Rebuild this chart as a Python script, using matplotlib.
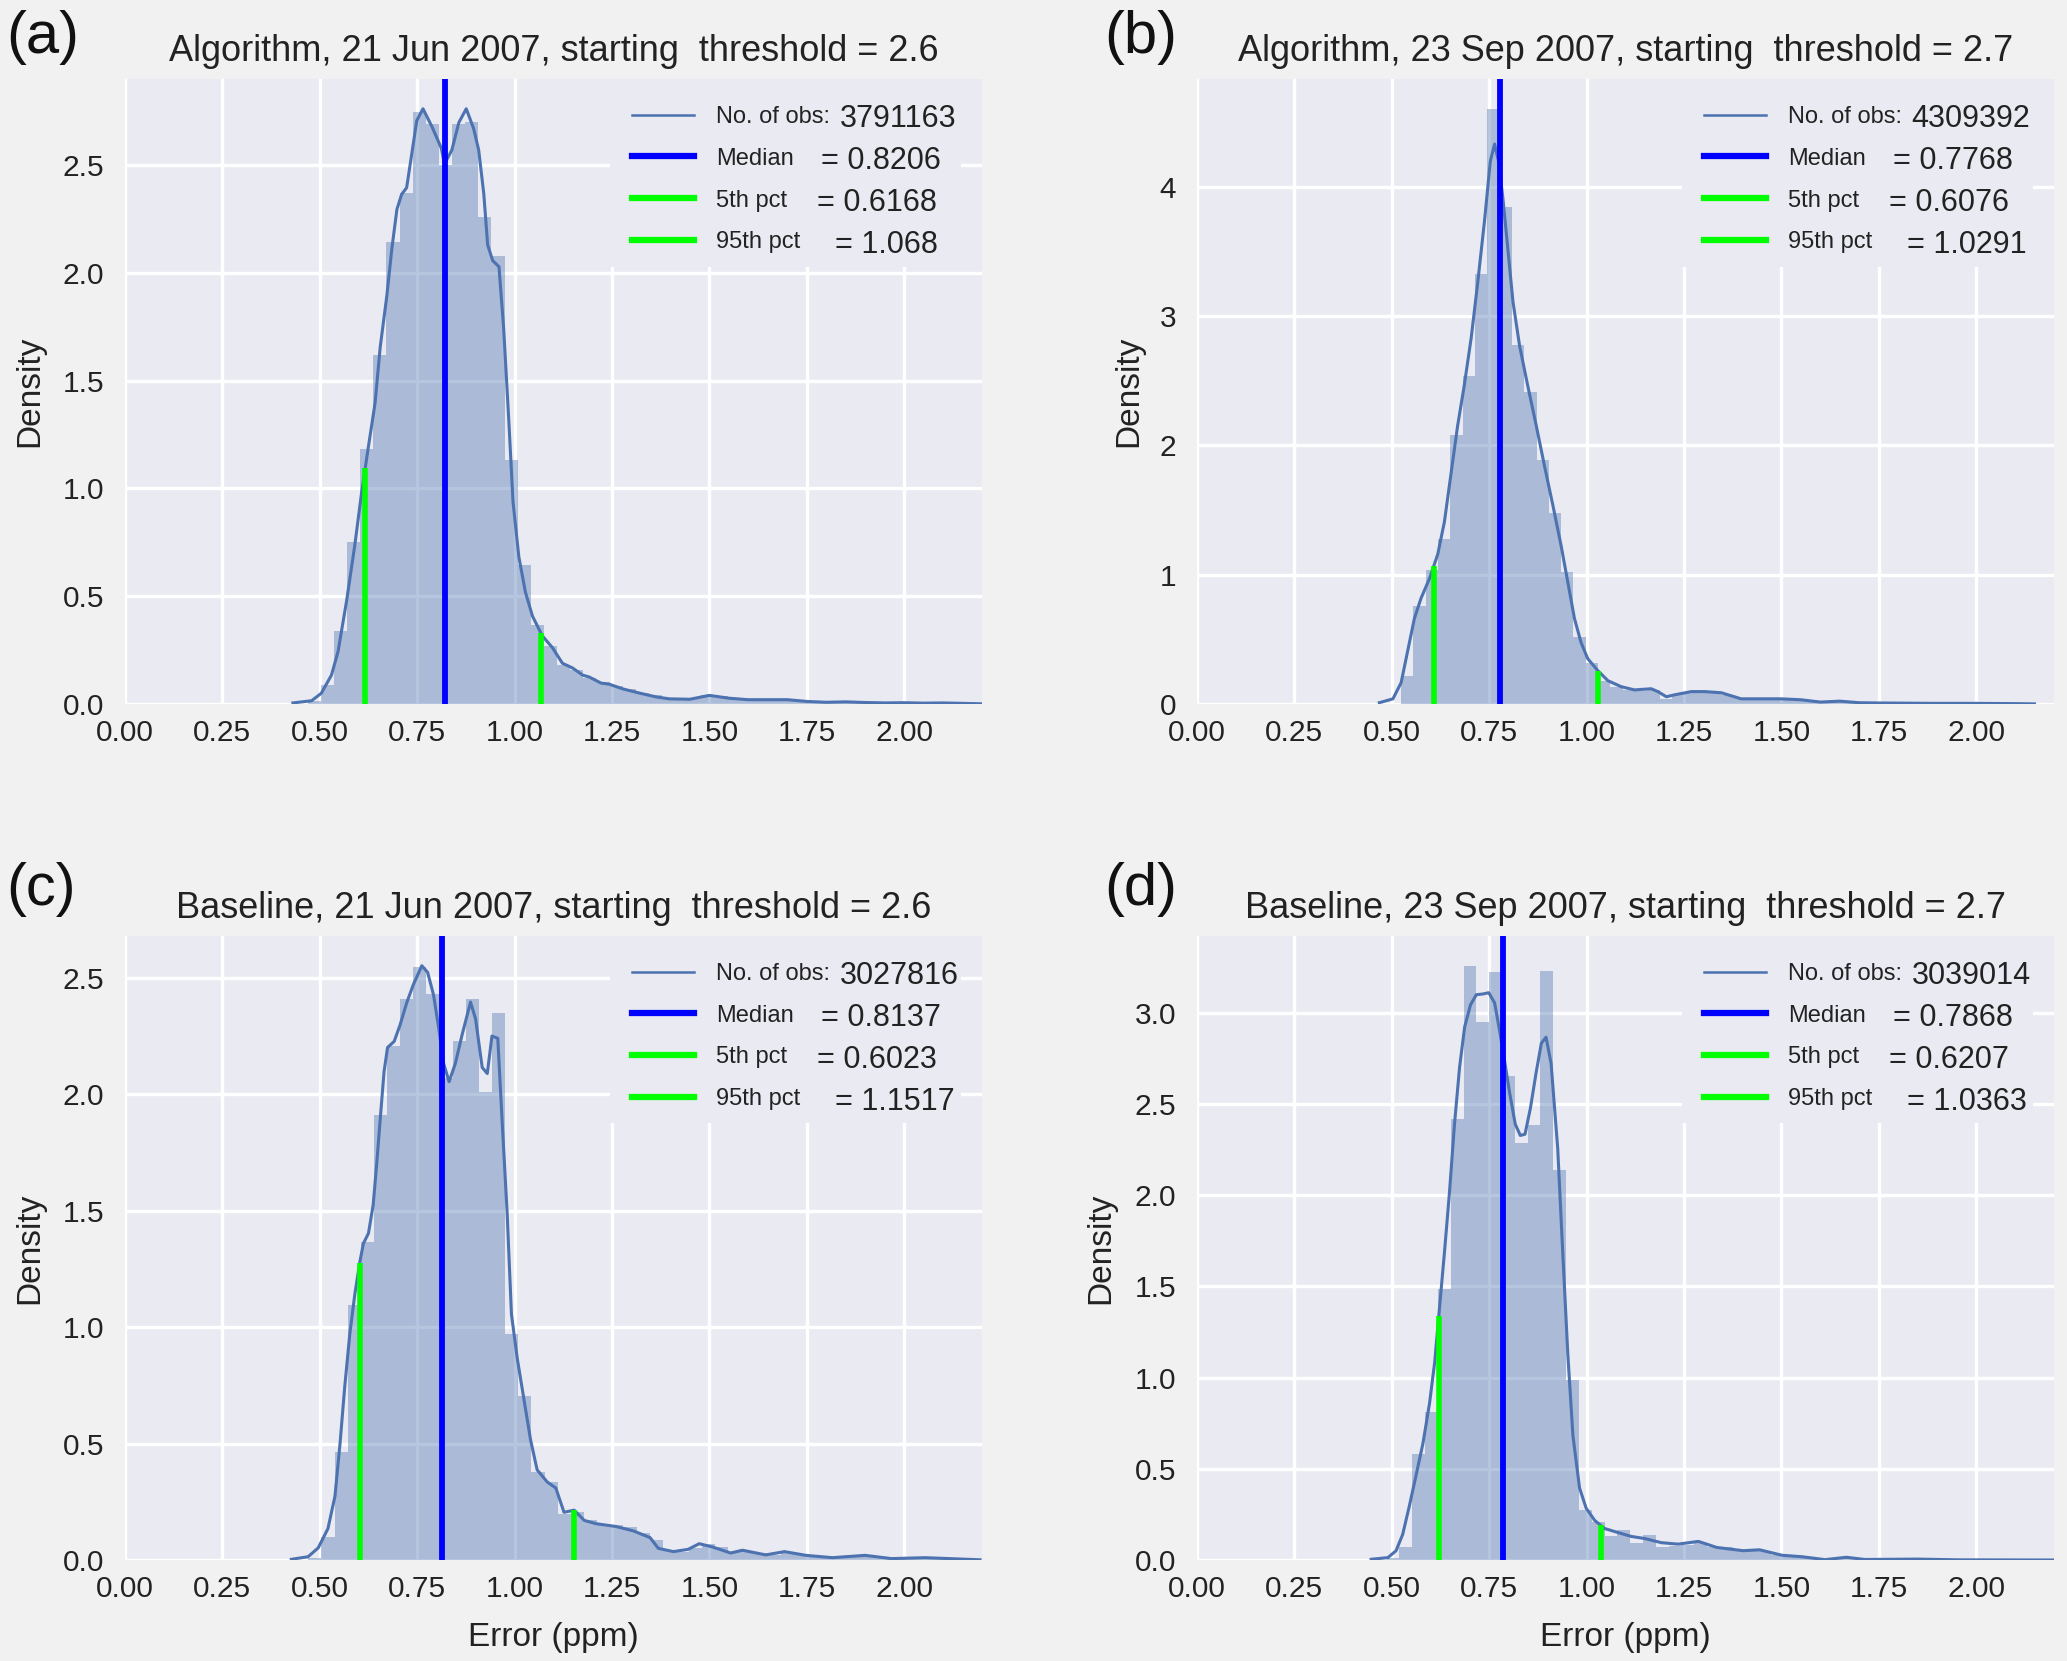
import matplotlib
matplotlib.use("Agg")
import matplotlib.pyplot as plt
from matplotlib.lines import Line2D
from matplotlib.patches import Rectangle
from matplotlib.ticker import FormatStrFormatter
import numpy as np

# ---------------- data ----------------
# Panel (a) Algorithm, 21 Jun 2007
a_bin_start = 0.4689
a_bin_width = 0.0337
a_heights = [0.012, 0.088, 0.339, 0.753, 1.183, 1.621, 2.143, 2.372, 2.747, 2.689,
             2.50, 2.689, 2.70, 2.258, 2.079, 1.132, 0.643, 0.368, 0.271, 0.18,
             0.16, 0.12, 0.10, 0.085, 0.07, 0.05, 0.04, 0.03, 0.025, 0.028,
             0.04, 0.035, 0.025, 0.02, 0.02, 0.018, 0.02, 0.015, 0.012, 0.008,
             0.01, 0.008, 0.007, 0.006, 0.005, 0.005, 0.005, 0.004, 0.004, 0.003]
a_kde_x = [0.431, 0.479, 0.504, 0.530, 0.547, 0.569, 0.590, 0.607, 0.625, 0.642,
           0.655, 0.672, 0.685, 0.698, 0.710, 0.723, 0.736, 0.749, 0.765, 0.788,
           0.812, 0.820, 0.839, 0.857, 0.876, 0.895, 0.908, 0.921, 0.931, 0.944,
           0.960, 0.972, 0.985, 0.996, 1.011, 1.028, 1.046, 1.071, 1.097, 1.123,
           1.149, 1.175, 1.192, 1.222, 1.243, 1.278, 1.320, 1.363, 1.397, 1.45,
           1.50, 1.55, 1.60, 1.65, 1.70, 1.75, 1.80, 1.85, 1.90, 1.95,
           2.00, 2.05, 2.10, 2.15, 2.197]
a_kde_y = [0.005, 0.015, 0.05, 0.134, 0.244, 0.48, 0.738, 0.976, 1.196, 1.397,
           1.654, 1.892, 2.112, 2.295, 2.364, 2.396, 2.551, 2.707, 2.762, 2.679,
           2.579, 2.505, 2.57, 2.698, 2.762, 2.67, 2.57, 2.368, 2.13, 2.057,
           2.029, 1.745, 1.324, 0.94, 0.683, 0.518, 0.408, 0.317, 0.262, 0.189,
           0.167, 0.134, 0.125, 0.097, 0.092, 0.07, 0.051, 0.033, 0.024, 0.022,
           0.04, 0.027, 0.02, 0.02, 0.02, 0.012, 0.008, 0.01, 0.007, 0.005,
           0.006, 0.004, 0.005, 0.003, 0.001]
a_nobs = "3791163"
a_median, a_p5, a_p95 = 0.8206, 0.6168, 1.068
a_vals = [a_nobs, "= 0.8206", "= 0.6168", "= 1.068"]
a_title = "Algorithm, 21 Jun 2007, starting  threshold = 2.6"

# Panel (b) Algorithm, 23 Sep 2007
b_bin_start = 0.524
b_bin_width = 0.0316
b_heights = [0.22, 0.761, 1.034, 1.273, 2.084, 2.54, 3.33, 4.605, 3.845, 2.78,
             2.41, 1.89, 1.48, 1.02, 0.516, 0.32, 0.18, 0.13, 0.11, 0.10,
             0.105, 0.04, 0.075, 0.09, 0.09, 0.085, 0.07, 0.045, 0.04, 0.04,
             0.04, 0.04, 0.035, 0.02, 0.015, 0.022, 0.02, 0.01, 0.008, 0.008,
             0.007, 0.007, 0.006, 0.005, 0.005, 0.004, 0.005, 0.004, 0.003, 0.003]
b_kde_x = [0.468, 0.503, 0.524, 0.541, 0.558, 0.575, 0.597, 0.618, 0.635, 0.652,
           0.669, 0.686, 0.704, 0.721, 0.738, 0.753, 0.764, 0.774, 0.785, 0.798,
           0.811, 0.828, 0.849, 0.871, 0.892, 0.914, 0.935, 0.952, 0.969, 0.986,
           1.003, 1.029, 1.055, 1.089, 1.123, 1.166, 1.183, 1.205, 1.226, 1.269,
           1.303, 1.346, 1.397, 1.45, 1.50, 1.55, 1.60, 1.65, 1.70, 1.75,
           1.80, 1.90, 2.00, 2.10, 2.15]
b_kde_y = [0.01, 0.04, 0.165, 0.413, 0.661, 0.817, 0.972, 1.158, 1.407, 1.78,
           2.152, 2.463, 2.835, 3.27, 3.736, 4.2, 4.332, 4.2, 3.92, 3.52,
           3.115, 2.773, 2.463, 2.152, 1.842, 1.531, 1.22, 0.941, 0.661, 0.475,
           0.351, 0.258, 0.18, 0.134, 0.109, 0.118, 0.096, 0.056, 0.071, 0.096,
           0.096, 0.087, 0.04, 0.04, 0.04, 0.033, 0.015, 0.022, 0.01, 0.008,
           0.007, 0.005, 0.005, 0.003, 0.001]
b_nobs = "4309392"
b_median, b_p5, b_p95 = 0.7768, 0.6076, 1.0291
b_vals = [b_nobs, "= 0.7768", "= 0.6076", "= 1.0291"]
b_title = "Algorithm, 23 Sep 2007, starting  threshold = 2.7"

# Panel (c) Baseline, 21 Jun 2007
c_bin_start = 0.4706
c_bin_width = 0.0337
c_heights = [0.01, 0.10, 0.462, 1.094, 1.365, 1.91, 2.208, 2.41, 2.545, 2.43,
             2.07, 2.227, 2.41, 2.01, 2.35, 0.972, 0.703, 0.378, 0.335, 0.196,
             0.205, 0.17, 0.155, 0.15, 0.14, 0.115, 0.085, 0.045, 0.035, 0.05,
             0.07, 0.055, 0.035, 0.04, 0.03, 0.022, 0.035, 0.025, 0.02, 0.015,
             0.01, 0.012, 0.018, 0.015, 0.007, 0.006, 0.008, 0.01, 0.008, 0.005]
c_kde_x = [0.427, 0.470, 0.496, 0.521, 0.539, 0.552, 0.564, 0.577, 0.590, 0.603,
           0.612, 0.625, 0.637, 0.646, 0.655, 0.665, 0.674, 0.691, 0.706, 0.723,
           0.740, 0.762, 0.777, 0.792, 0.805, 0.818, 0.832, 0.848, 0.865, 0.887,
           0.900, 0.917, 0.930, 0.942, 0.957, 0.968, 0.981, 0.992, 1.007, 1.024,
           1.041, 1.058, 1.084, 1.106, 1.127, 1.153, 1.179, 1.209, 1.26, 1.305,
           1.348, 1.369, 1.408, 1.446, 1.474, 1.508, 1.555, 1.585, 1.645, 1.693,
           1.748, 1.816, 1.90, 1.968, 2.054, 2.195]
c_kde_y = [0.003, 0.014, 0.052, 0.135, 0.274, 0.5, 0.743, 0.969, 1.142, 1.281,
           1.359, 1.403, 1.524, 1.698, 1.889, 2.097, 2.201, 2.227, 2.297, 2.392,
           2.47, 2.552, 2.523, 2.427, 2.288, 2.132, 2.054, 2.132, 2.253, 2.396,
           2.323, 2.115, 2.089, 2.25, 2.24, 1.889, 1.49, 1.056, 0.865, 0.691,
           0.517, 0.387, 0.335, 0.309, 0.205, 0.214, 0.17, 0.156, 0.144, 0.125,
           0.096, 0.05, 0.036, 0.046, 0.07, 0.056, 0.03, 0.042, 0.022, 0.036,
           0.02, 0.01, 0.02, 0.006, 0.01, 0.001]
c_nobs = "3027816"
c_median, c_p5, c_p95 = 0.8137, 0.6023, 1.1517
c_vals = [c_nobs, "= 0.8137", "= 0.6023", "= 1.1517"]
c_title = "Baseline, 21 Jun 2007, starting  threshold = 2.6"

# Panel (d) Baseline, 23 Sep 2007
d_bin_start = 0.4868
d_bin_width = 0.0329
d_heights = [0.01, 0.073, 0.583, 0.809, 1.486, 2.417, 3.259, 2.949, 3.222, 2.656,
             2.286, 2.384, 3.228, 2.14, 0.987, 0.273, 0.206, 0.129, 0.162, 0.095,
             0.135, 0.073, 0.078, 0.084, 0.095, 0.07, 0.07, 0.05, 0.05, 0.05,
             0.03, 0.022, 0.018, 0.01, 0.008, 0.012, 0.012, 0.005, 0.005, 0.005,
             0.006, 0.006, 0.004, 0.003, 0.002, 0.002, 0.002, 0.002, 0.001, 0.001]
d_kde_x = [0.447, 0.490, 0.511, 0.528, 0.545, 0.562, 0.580, 0.597, 0.610, 0.622,
           0.635, 0.648, 0.661, 0.674, 0.687, 0.702, 0.717, 0.734, 0.749, 0.764,
           0.777, 0.789, 0.802, 0.817, 0.830, 0.842, 0.856, 0.871, 0.884, 0.896,
           0.909, 0.926, 0.939, 0.952, 0.965, 0.982, 0.999, 1.021, 1.046, 1.080,
           1.115, 1.149, 1.192, 1.235, 1.287, 1.334, 1.402, 1.444, 1.502, 1.553,
           1.612, 1.667, 1.714, 1.85, 1.955, 2.2]
d_kde_y = [0.004, 0.013, 0.051, 0.14, 0.295, 0.461, 0.639, 0.86, 1.082, 1.37,
           1.681, 2.013, 2.39, 2.701, 2.922, 3.044, 3.1, 3.104, 3.111, 3.055,
           2.9, 2.745, 2.568, 2.39, 2.328, 2.335, 2.479, 2.678, 2.834, 2.867,
           2.723, 2.257, 1.681, 1.126, 0.683, 0.395, 0.284, 0.217, 0.173, 0.151,
           0.129, 0.118, 0.095, 0.087, 0.102, 0.069, 0.051, 0.056, 0.026, 0.018,
           0.002, 0.015, 0.003, 0.005, 0.001, 0.0]
d_nobs = "3039014"
d_median, d_p5, d_p95 = 0.7868, 0.6207, 1.0363
d_vals = [d_nobs, "= 0.7868", "= 0.6207", "= 1.0363"]
d_title = "Baseline, 23 Sep 2007, starting  threshold = 2.7"

legend_labels = ["No. of obs:", "Median", "5th pct", "95th pct"]
x_ticks = [0.00, 0.25, 0.50, 0.75, 1.00, 1.25, 1.50, 1.75, 2.00]

# ---------------- style ----------------
BG_FIG = "#F1F1F1"
BG_AX = "#EAEAF2"
HIST_C = "#4C72B0"
plt.rcParams.update({
    "font.family": ["Liberation Sans", "DejaVu Sans"],
    "axes.facecolor": BG_AX,
    "figure.facecolor": BG_FIG,
    "axes.edgecolor": "white",
    "axes.grid": True,
    "axes.axisbelow": True,
    "grid.color": "white",
    "grid.linewidth": 2.4,
    "text.color": "#222222",
    "axes.labelcolor": "#222222",
    "xtick.color": "#222222",
    "ytick.color": "#222222",
})

fig = plt.figure(figsize=(20.67, 16.61), dpi=100)
W, H = 2067.0, 1661.0
VX = [0.834, 0.812, 0.808, 0.828]

panels = [
    dict(pos=[125 / W, 1 - 704 / H, 857 / W, 625 / H], start=a_bin_start, bw=a_bin_width,
         h=a_heights, kx=a_kde_x, ky=a_kde_y, med=a_median, p5=a_p5, p95=a_p95,
         vals=a_vals, title=a_title, tag="(a)", tagxy=(6, 53), ylab_x=-0.093,
         xlabel=False),
    dict(pos=[1197 / W, 1 - 704 / H, 857 / W, 625 / H], start=b_bin_start, bw=b_bin_width,
         h=b_heights, kx=b_kde_x, ky=b_kde_y, med=b_median, p5=b_p5, p95=b_p95,
         vals=b_vals, title=b_title, tag="(b)", tagxy=(1104, 53), ylab_x=-0.062,
         xlabel=False),
    dict(pos=[125 / W, 1 - 1560 / H, 857 / W, 624 / H], start=c_bin_start, bw=c_bin_width,
         h=c_heights, kx=c_kde_x, ky=c_kde_y, med=c_median, p5=c_p5, p95=c_p95,
         vals=c_vals, title=c_title, tag="(c)", tagxy=(6, 905), ylab_x=-0.093,
         xlabel=True),
    dict(pos=[1197 / W, 1 - 1560 / H, 857 / W, 624 / H], start=d_bin_start, bw=d_bin_width,
         h=d_heights, kx=d_kde_x, ky=d_kde_y, med=d_median, p5=d_p5, p95=d_p95,
         vals=d_vals, title=d_title, tag="(d)", tagxy=(1104, 905), ylab_x=-0.094,
         xlabel=True),
]

axes = []
for p in panels:
    ax = fig.add_axes(p["pos"])
    axes.append(ax)
    heights = np.asarray(p["h"])
    lefts = p["start"] + p["bw"] * np.arange(len(heights))
    ax.bar(lefts, heights, width=p["bw"], align="edge", color=HIST_C, alpha=0.4,
           linewidth=0, zorder=1)
    kx = np.asarray(p["kx"])
    ky = np.asarray(p["ky"])
    ax.plot(kx, ky, color=HIST_C, lw=2.2, zorder=2)
    ax.axvline(p["med"], color="#0000FF", lw=4.2, zorder=3)
    tops = np.interp([p["p5"], p["p95"]], kx, ky)
    ax.vlines([p["p5"], p["p95"]], 0, tops, color="#00FF00", lw=4.0, zorder=3)

    ax.set_xlim(0, 2.2)
    ax.set_ylim(0, 1.05 * max(heights.max(), ky.max()))
    ax.set_xticks(x_ticks)
    ax.xaxis.set_major_formatter(FormatStrFormatter("%.2f"))
    ax.tick_params(axis="both", length=0, labelsize=21.5)
    ax.tick_params(axis="x", pad=11)
    ax.tick_params(axis="y", pad=15)
    for s in ax.spines.values():
        s.set_visible(False)

    ax.set_title(p["title"], fontsize=26, pad=13)
    ax.set_ylabel("Density", fontsize=24)
    ax.yaxis.set_label_coords(p["ylab_x"], 0.5)
    if p["xlabel"]:
        ax.set_xlabel("Error (ppm)", fontsize=24)
        ax.xaxis.set_label_coords(0.5, -0.1)

    # legend background (hides gridlines like an opaque legend frame)
    ax.add_patch(Rectangle((0.566, 0.70), 0.41, 0.30, transform=ax.transAxes,
                           facecolor=BG_AX, edgecolor="none", zorder=0.8))
    handles = [Line2D([], [], color=HIST_C, lw=1.8),
               Line2D([], [], color="#0000FF", lw=4.5),
               Line2D([], [], color="#00FF00", lw=4.5),
               Line2D([], [], color="#00FF00", lw=4.5)]
    leg = ax.legend(handles, legend_labels, loc="upper left",
                    bbox_to_anchor=(0.592, 0.957), borderaxespad=0, borderpad=0,
                    frameon=False, fontsize=17, handlelength=2.6,
                    handletextpad=0.95, labelspacing=0.84)
    p["leg"] = leg

    fig.text(p["tagxy"][0] / W, 1 - p["tagxy"][1] / H, p["tag"], fontsize=43,
             ha="left", va="baseline", color="#111111")

fig.canvas.draw()
renderer = fig.canvas.get_renderer()
for ax, p in zip(axes, panels):
    inv = ax.transAxes.inverted()
    for t, val, vx in zip(p["leg"].get_texts(), p["vals"], VX):
        bb = t.get_window_extent(renderer)
        yc = inv.transform((0, 0.5 * (bb.y0 + bb.y1)))[1]
        ax.text(vx, yc - 0.004, val, transform=ax.transAxes, fontsize=22, ha="left",
                va="center", zorder=6, color="#222222")

fig.savefig("out.png", dpi=100, facecolor=BG_FIG)
